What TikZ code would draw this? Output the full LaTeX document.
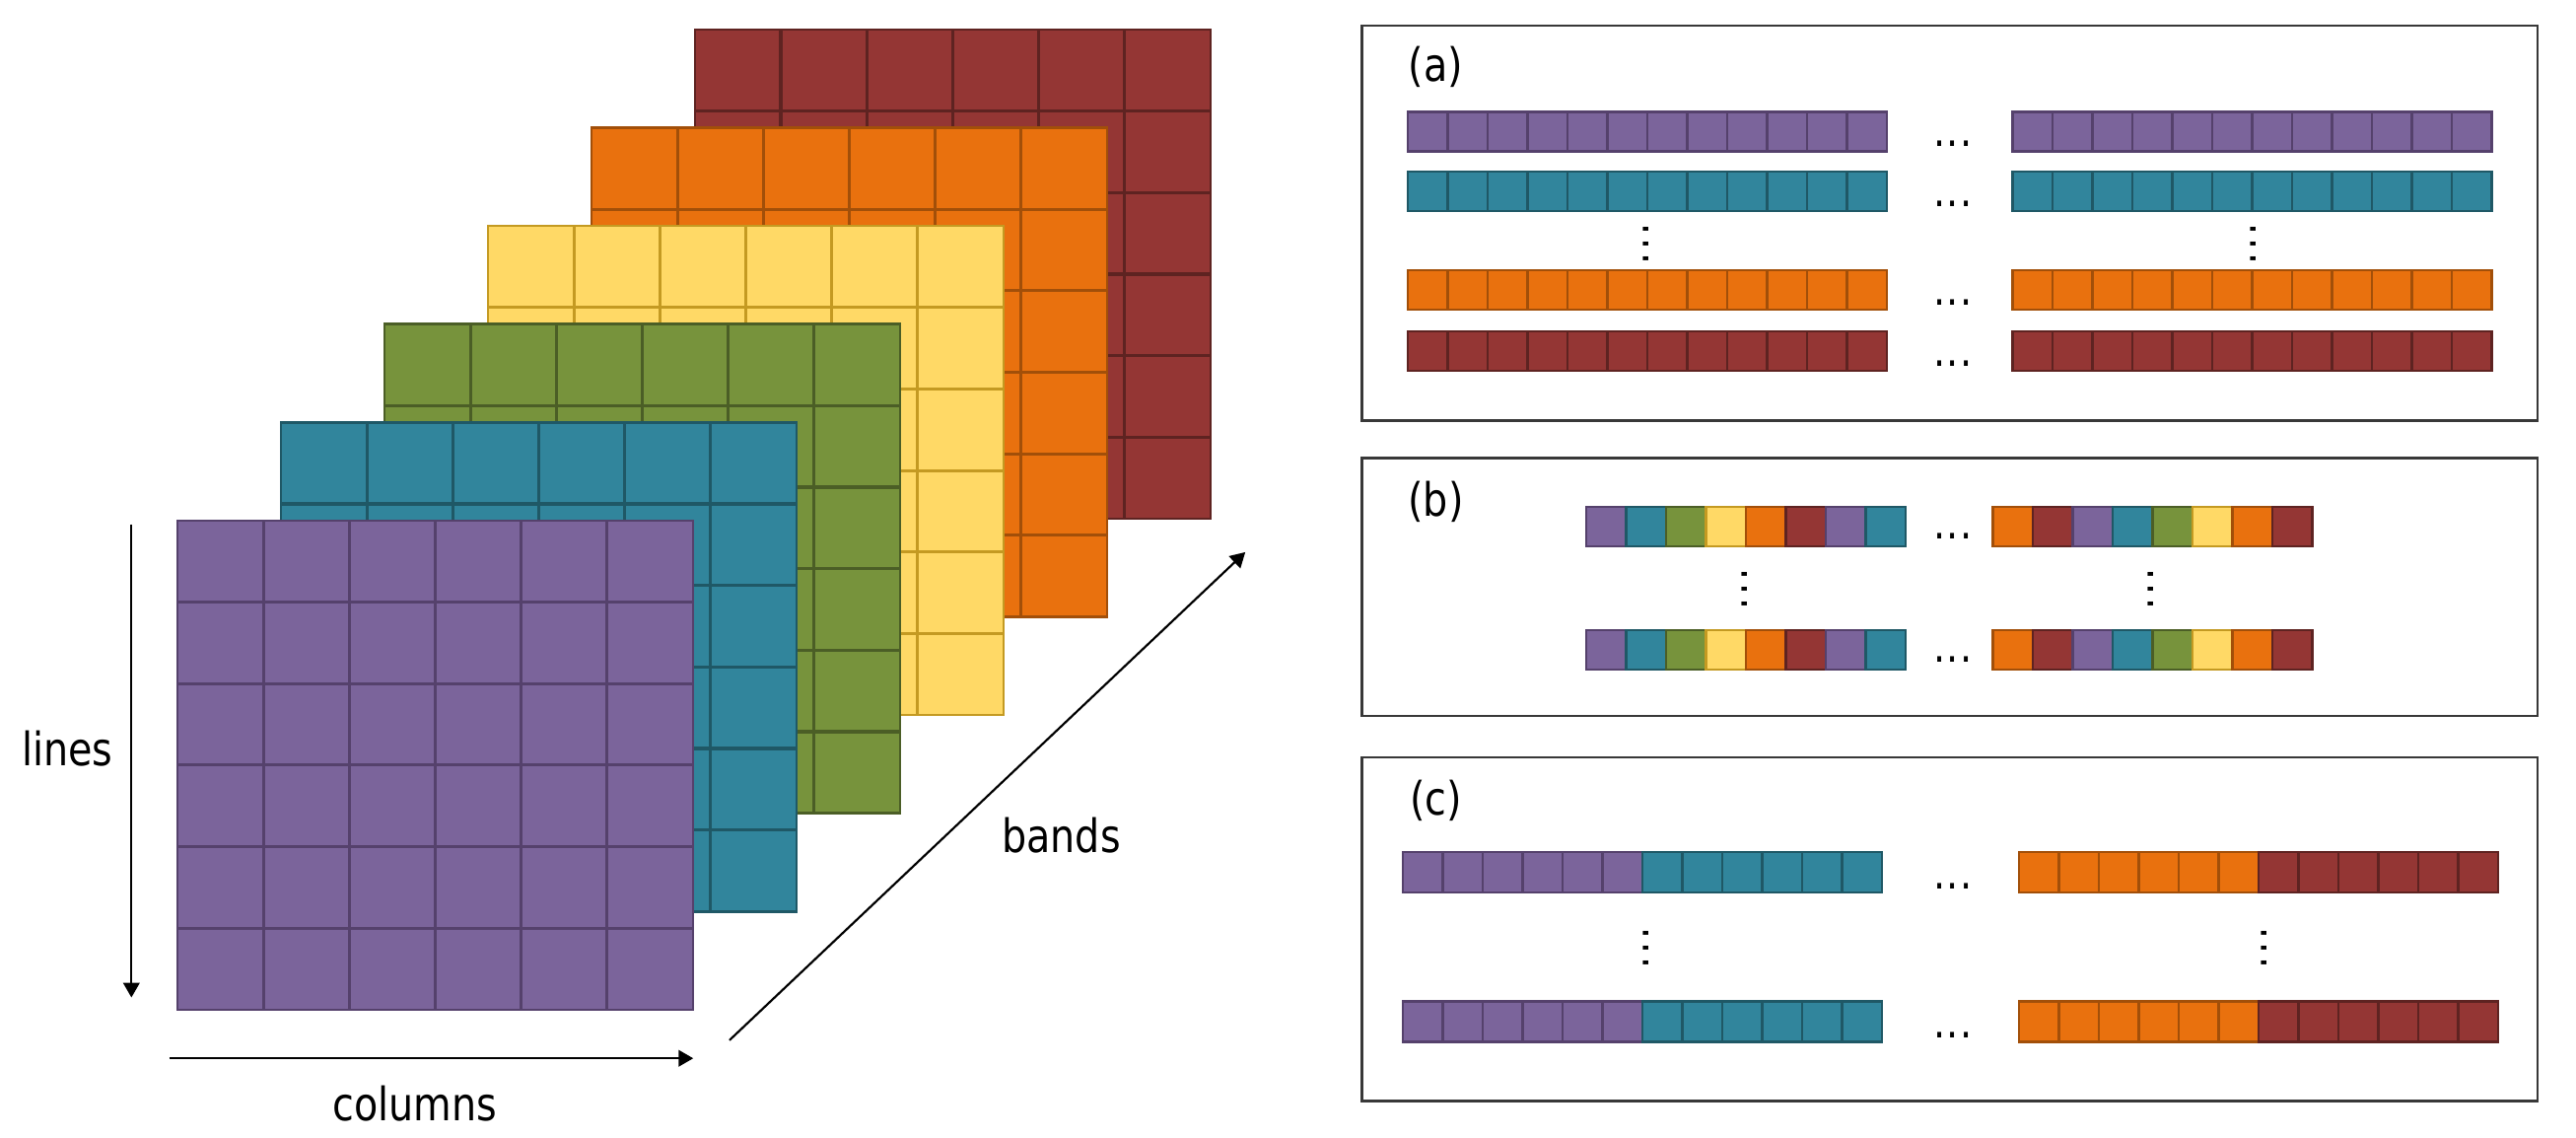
\documentclass[tikz,border=0pt]{standalone}
\usepackage{fontspec}
\setmainfont{DejaVu Sans}[FakeStretch=0.85]
\usetikzlibrary{arrows.meta}
\definecolor{pur}{HTML}{7B649B}\definecolor{purD}{HTML}{55416C}
\definecolor{tea}{HTML}{31859C}\definecolor{teaD}{HTML}{1F5866}
\definecolor{grn}{HTML}{77933C}\definecolor{grnD}{HTML}{4B5E26}
\definecolor{ylw}{HTML}{FFD966}\definecolor{ylwD}{HTML}{C49A22}
\definecolor{org}{HTML}{E9710E}\definecolor{orgD}{HTML}{A24F09}
\definecolor{brn}{HTML}{943634}\definecolor{brnD}{HTML}{5E2321}
\newcommand\cellrow[4]{% x, y, colour list, cell height
  \foreach \cc [count=\ii from 0] in {#3}
    \filldraw[fill=\cc, draw=\cc D, line width=1.5pt] ({#1+\ii*24.3},#2) rectangle ++(24.3,#4);}
\begin{document}
\begin{tikzpicture}[x=1pt,y=-1pt,
  lbl/.style={inner sep=0pt, font=\fontsize{28}{34}\selectfont},
  hdots/.style={inner sep=0pt, font=\fontsize{27}{30}\selectfont},
  axis/.style={line width=1.3pt, -{Triangle[length=9pt,width=10pt]}},
  panel/.style={draw=black!78, line width=1.5pt}]
\useasboundingbox (0,0) rectangle (1568,692);
% ---------- stacked bands ----------
\foreach \k/\c in {5/brn,4/org,3/ylw,2/grn,1/tea,0/pur}{
  \pgfmathsetmacro\xo{108+63*\k}
  \pgfmathsetmacro\yo{316.8-59.76*\k}
  \fill[\c] (\xo,\yo) rectangle ++(313.8,297.6);
  \foreach \i in {1,...,5}{
    \draw[draw=\c D, line width=1.9pt] ({\xo+\i*52.3},\yo) -- ++(0,297.6);
    \draw[draw=\c D, line width=1.9pt] (\xo,{\yo+\i*49.6}) -- ++(313.8,0);}
  \draw[draw=\c D, line width=1.6pt] (\xo,\yo) rectangle ++(313.8,297.6);
}
% ---------- axes ----------
\coordinate (l0) at (80,319);  \coordinate (l1) at (80,607);
\coordinate (c0) at (103,644); \coordinate (c1) at (422,644);
\coordinate (b0) at (444,633); \coordinate (b1) at (758,336);
\draw[axis] (l0) -- (l1);
\draw[axis] (c0) -- (c1);
\draw[axis] (b0) -- (b1);
\node[lbl, anchor=base] (tlines) at (41,466) {lines};
\node[lbl, anchor=base] (tcols) at (252.5,682) {columns};
\node[lbl, anchor=base] (tbands) at (646,519) {bands};
% ---------- panel (a) ----------
\draw[panel] (829,15.6) rectangle (1544.5,256);
\node[lbl] (la) at (874,41) {(a)};
\cellrow{857}{68}{pur,pur,pur,pur,pur,pur,pur,pur,pur,pur,pur,pur}{24}
\cellrow{1225}{68}{pur,pur,pur,pur,pur,pur,pur,pur,pur,pur,pur,pur}{24}
\cellrow{857}{104.5}{tea,tea,tea,tea,tea,tea,tea,tea,tea,tea,tea,tea}{24}
\cellrow{1225}{104.5}{tea,tea,tea,tea,tea,tea,tea,tea,tea,tea,tea,tea}{24}
\cellrow{857}{164.5}{org,org,org,org,org,org,org,org,org,org,org,org}{24}
\cellrow{1225}{164.5}{org,org,org,org,org,org,org,org,org,org,org,org}{24}
\cellrow{857}{201.5}{brn,brn,brn,brn,brn,brn,brn,brn,brn,brn,brn,brn}{24}
\cellrow{1225}{201.5}{brn,brn,brn,brn,brn,brn,brn,brn,brn,brn,brn,brn}{24}
\node[hdots] (da1) at (1188.7,87.5) {.\kern0.8pt.\kern0.8pt.};
\node[hdots] (da2) at (1188.7,124) {.\kern0.8pt.\kern0.8pt.};
\node[hdots] (da3) at (1188.7,184) {.\kern0.8pt.\kern0.8pt.};
\node[hdots] (da4) at (1188.7,221) {.\kern0.8pt.\kern0.8pt.};
\node[hdots, rotate=90] (va1) at (1002,148.5) {.\kern1.8pt.\kern1.8pt.};
\node[hdots, rotate=90] (va2) at (1371.5,148.5) {.\kern1.8pt.\kern1.8pt.};
% ---------- panel (b) ----------
\draw[panel] (829,278.6) rectangle (1544.5,435.6);
\node[lbl] (lb) at (874,305.6) {(b)};
\cellrow{965.5}{308.5}{pur,tea,grn,ylw,org,brn,pur,tea}{24}
\cellrow{1213}{308.5}{org,brn,pur,tea,grn,ylw,org,brn}{24}
\cellrow{965.5}{383.5}{pur,tea,grn,ylw,org,brn,pur,tea}{24}
\cellrow{1213}{383.5}{org,brn,pur,tea,grn,ylw,org,brn}{24}
\node[hdots] (db1) at (1188.7,326.5) {.\kern0.8pt.\kern0.8pt.};
\node[hdots] (db2) at (1188.7,401.5) {.\kern0.8pt.\kern0.8pt.};
\node[hdots, rotate=90] (vb1) at (1062,358.5) {.\kern1.8pt.\kern1.8pt.};
\node[hdots, rotate=90] (vb2) at (1309,358.5) {.\kern1.8pt.\kern1.8pt.};
% ---------- panel (c) ----------
\draw[panel] (829,461) rectangle (1544.5,670);
\node[lbl] (lc) at (874,487) {(c)};
\cellrow{854}{518.5}{pur,pur,pur,pur,pur,pur,tea,tea,tea,tea,tea,tea}{24.5}
\cellrow{1229}{518.5}{org,org,org,org,org,org,brn,brn,brn,brn,brn,brn}{24.5}
\cellrow{854}{609.5}{pur,pur,pur,pur,pur,pur,tea,tea,tea,tea,tea,tea}{24.5}
\cellrow{1229}{609.5}{org,org,org,org,org,org,brn,brn,brn,brn,brn,brn}{24.5}
\node[hdots] (dc1) at (1188.7,539) {.\kern0.8pt.\kern0.8pt.};
\node[hdots] (dc2) at (1188.7,630) {.\kern0.8pt.\kern0.8pt.};
\node[hdots, rotate=90] (vc1) at (1002,577) {.\kern1.8pt.\kern1.8pt.};
\node[hdots, rotate=90] (vc2) at (1378,577) {.\kern1.8pt.\kern1.8pt.};
\end{tikzpicture}
\end{document}
